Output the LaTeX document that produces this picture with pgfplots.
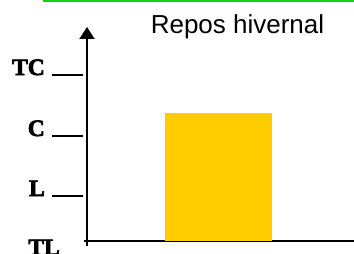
\documentclass[border=0pt]{standalone}
\usepackage{pgfplots}
\pgfplotsset{compat=1.18}
\usepackage{fontspec}
\setmainfont{Liberation Serif}
\newfontfamily\heavy{Liberation Serif}[BoldFeatures={FakeBold=3}]
\newfontfamily\arial{Liberation Sans}
\usetikzlibrary{arrows.meta}
\definecolor{barcol}{RGB}{255,204,0}
\definecolor{grn}{RGB}{20,210,20}
\begin{document}
\begin{tikzpicture}
\begin{axis}[
  scale only axis,
  width=270bp, height=219bp,
  xmin=-3, xmax=267, ymin=-5, ymax=214,
  axis lines=middle,
  axis line style={line width=2bp, black},
  x axis line style={-},
  y axis line style={-{Triangle[length=12bp,width=15bp]}},
  xtick=\empty,
  ytick={45,105,166},
  yticklabels={
    {\textbf{L}\hspace{7bp}\rule[-1bp]{31bp}{2bp}},
    {\textbf{C}\hspace{7bp}\rule[-1bp]{31bp}{2bp}},
    {\textbf{TC}\hspace{7bp}\rule[-1bp]{31bp}{2bp}}},
  yticklabel style={anchor=base east, inner sep=0pt, xshift=-4bp, font=\heavy\fontsize{23.5bp}{23.5bp}\selectfont},
  major tick length=0pt,
  tick style={draw=none},
  clip=false,
]
\addplot[ybar, bar width=107, fill=barcol, draw=none] coordinates {(131.5,128)};
\node[anchor=base east, inner sep=0pt, font=\heavy\fontsize{23.5bp}{23.5bp}\selectfont\bfseries] at (axis cs:-27,-14) {TL};
\node[anchor=base, inner sep=0pt, font=\arial\fontsize{26bp}{26bp}\selectfont] at (axis cs:150.5,207.5) {Repos hivernal};
\draw[grn, line width=2.5bp] (axis cs:-44,240.5) -- (axis cs:267,240.5);
\coordinate (bl) at (axis cs:-87,-13);
\coordinate (tr) at (axis cs:267,241);
\end{axis}
\pgfresetboundingbox
\path[use as bounding box] (bl) rectangle (tr);
\end{tikzpicture}
\end{document}
